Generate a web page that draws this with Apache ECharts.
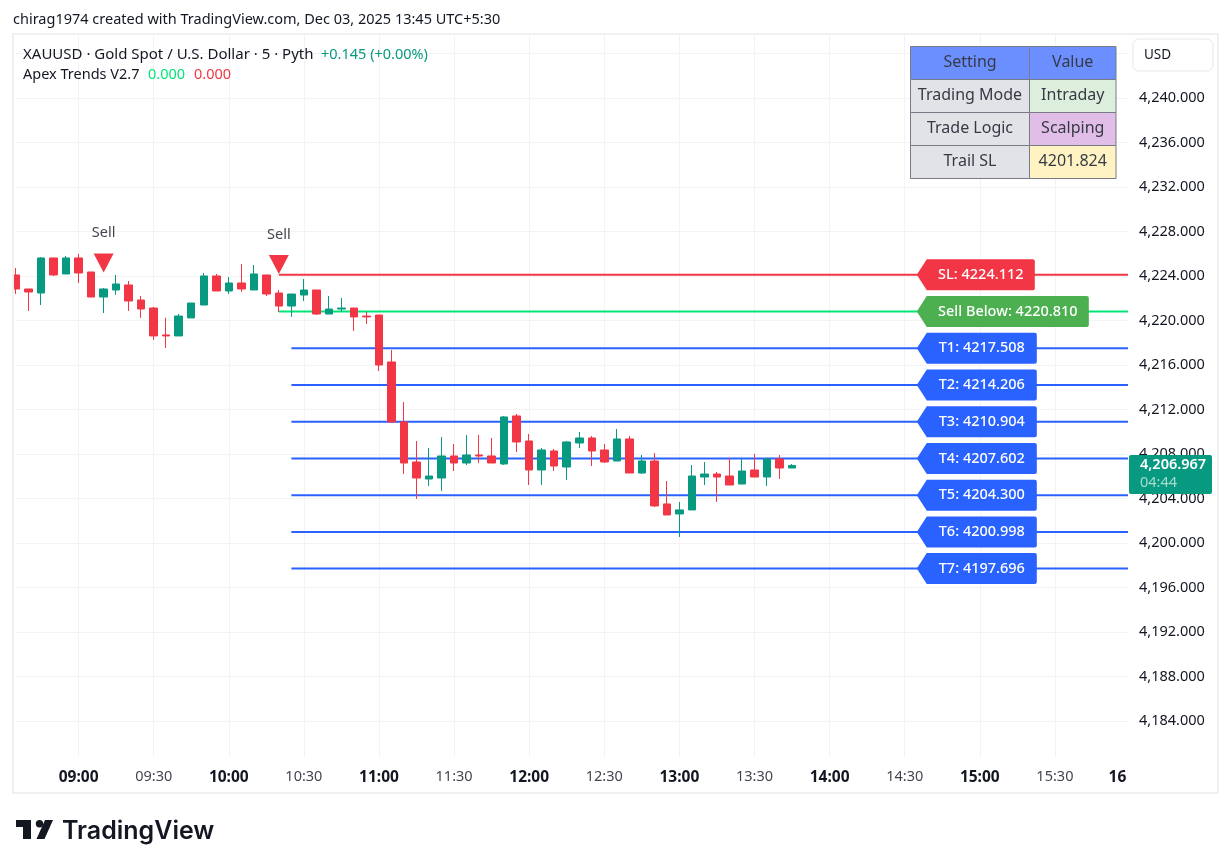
<!DOCTYPE html>
<html>
<head>
<meta charset="utf-8">
<title>XAUUSD</title>
<style>
html, body { margin: 0; padding: 0; background: #fff; }
#chart { width: 1231px; height: 868px; }
</style>
<script src="https://cdn.jsdelivr.net/npm/echarts@6/dist/echarts.min.js"></script>
</head>
<body>
<div id="chart"></div>
<script>
// candles
var opens = [4224.09,4222.83,4222.47,4225.62,4224.18,4225.62,4224.36,4222.11,4222.74,4223.19,4221.84,4221.12,4218.70,4218.61,4220.23,4221.39,4224.00,4222.65,4223.37,4222.74,4224.09,4222.47,4221.30,4222.29,4222.74,4220.58,4221.03,4221.12,4220.40,4220.49,4216.27,4210.88,4207.28,4205.75,4205.84,4207.82,4207.19,4207.91,4207.82,4207.10,4211.42,4209.17,4206.56,4208.27,4206.83,4208.99,4209.44,4208.36,4207.37,4209.35,4206.29,4207.37,4203.51,4202.61,4202.97,4205.93,4206.20,4206.02,4205.30,4206.56,4205.93,4207.55,4206.74];
var closes = [4222.83,4222.56,4225.62,4224.09,4225.62,4224.27,4222.11,4222.83,4223.28,4221.75,4221.03,4218.61,4218.61,4220.40,4221.57,4224.00,4222.65,4223.37,4222.83,4224.18,4222.38,4221.30,4222.38,4222.74,4220.58,4221.03,4221.12,4220.32,4220.32,4216.00,4210.88,4207.19,4205.84,4206.02,4207.82,4207.19,4207.91,4207.82,4207.19,4211.33,4209.08,4206.56,4208.36,4206.92,4209.08,4209.44,4208.27,4207.28,4209.35,4206.29,4207.37,4203.33,4202.52,4202.97,4206.02,4206.20,4205.93,4205.21,4206.47,4205.93,4207.55,4206.74,4206.97];
var lows = [4222.38,4220.85,4221.39,4224.00,4224.18,4223.37,4222.11,4220.67,4222.29,4220.85,4220.23,4218.25,4217.53,4218.61,4220.23,4221.39,4222.65,4222.38,4222.56,4222.74,4222.20,4220.76,4220.32,4221.75,4220.49,4220.58,4220.76,4219.06,4219.69,4215.46,4210.88,4206.20,4203.96,4205.12,4204.67,4206.47,4207.01,4207.19,4207.19,4207.01,4208.18,4205.21,4205.21,4206.47,4205.66,4208.54,4206.92,4207.19,4207.37,4206.29,4206.20,4203.24,4202.52,4200.54,4202.97,4205.21,4203.69,4205.21,4205.30,4205.93,4205.12,4205.75,4206.74];
var highs = [4224.72,4222.83,4225.71,4225.62,4225.80,4225.98,4224.36,4222.92,4224.09,4223.55,4222.20,4221.21,4220.23,4220.58,4221.57,4224.27,4224.18,4223.91,4225.08,4224.99,4224.09,4222.74,4222.38,4223.73,4222.74,4222.20,4222.02,4221.12,4220.76,4220.49,4217.35,4212.67,4209.17,4208.54,4209.53,4208.90,4209.71,4209.71,4209.44,4211.42,4211.60,4209.80,4208.54,4208.45,4209.17,4209.98,4209.62,4208.90,4210.25,4209.62,4207.91,4208.09,4205.57,4203.69,4207.01,4207.28,4206.38,4207.64,4207.64,4208.00,4207.64,4207.91,4207.10];

// entry, stop and target levels
var levelNames = ["SL", "Sell Below", "T1", "T2", "T3", "T4", "T5", "T6", "T7"];
var levelValues = [4224.112, 4220.81, 4217.508, 4214.206, 4210.904, 4207.602, 4204.3, 4200.998, 4197.696];
var levelStarts = [21, 21, 22, 22, 22, 22, 22, 22, 22];
var levelLineColors = ["#f23645", "#00e676", "#2962ff", "#2962ff", "#2962ff", "#2962ff", "#2962ff", "#2962ff", "#2962ff"];
var levelTagColors = ["#f23645", "#4caf50", "#2962ff", "#2962ff", "#2962ff", "#2962ff", "#2962ff", "#2962ff", "#2962ff"];

var sellIndexes = [7, 21];
var sellPrices = [4225.17, 4225.03];

var tableRows = [
  ["Setting", "Value"],
  ["Trading Mode", "Intraday"],
  ["Trade Logic", "Scalping"],
  ["Trail SL", "4201.824"]
];
var tableFills = [
  ["#6b8fff", "#6b8fff"],
  ["#e1e3e6", "#dcefdc"],
  ["#e1e3e6", "#e1bee7"],
  ["#e1e3e6", "#fff3c4"]
];

var lastPrice = "4,206.967";
var countdown = "04:44";

// 5 minute bars from 08:35 to 16:00
var categories = [];
for (var i = 0; i < 90; i++) {
  var m = 8 * 60 + 35 + i * 5;
  categories.push(("0" + Math.floor(m / 60)).slice(-2) + ":" + ("0" + m % 60).slice(-2));
}

var font = "'Noto Sans', sans-serif";
var candles = opens.map(function (o, i) { return [o, closes[i], lows[i], highs[i]]; });

function showsTime(i) {
  return (i - 5) % 6 === 0 && i < 89;
}

var levelSeries = levelNames.map(function (name, k) {
  return {
    type: "line",
    name: name,
    silent: true,
    showSymbol: false,
    z: 2,
    lineStyle: { color: levelLineColors[k], width: 2 },
    data: categories.map(function (c, i) { return i >= levelStarts[k] ? levelValues[k] : null; })
  };
});

// tag shape: pointed on the left, width w
function tagPath(w) {
  return "path://M10 0H" + (w - 2) + "Q" + w + " 0 " + w + " 2V29Q" + w + " 31 " + (w - 2) + " 31H10L0 15.5Z";
}

var tagData = levelNames.map(function (name, k) {
  var w = name === "Sell Below" ? 172 : name === "SL" ? 118 : 120;
  return {
    value: [77, levelValues[k]],
    name: name + ": " + levelValues[k].toFixed(3),
    symbol: tagPath(w),
    symbolSize: [w, 31],
    symbolOffset: [917 + w / 2 - 980, 0],
    itemStyle: { color: levelTagColors[k] },
    label: { offset: [5, 0] }
  };
});

// table cells, drawn as graphic rects
var colX = [910.5, 1029.5, 1116];
var rowY = [46.5, 79.5, 112.5, 145.5, 178.5];
var tableGraphic = [];
tableRows.forEach(function (row, r) {
  row.forEach(function (text, c) {
    tableGraphic.push({
      type: "rect", z: 120,
      shape: { x: colX[c], y: rowY[r], width: colX[c + 1] - colX[c], height: rowY[r + 1] - rowY[r] },
      style: { fill: tableFills[r][c], stroke: "#787b86", lineWidth: 1 }
    });
    tableGraphic.push({
      type: "text", z: 121,
      x: (colX[c] + colX[c + 1]) / 2, y: (rowY[r] + rowY[r + 1]) / 2 - 0.5,
      style: { text: text, fill: "#363a45", font: "16px " + font, align: "center", verticalAlign: "middle" }
    });
  });
});

function label(x, y, text, color, extra) {
  return {
    type: "text", z: 120, x: x, y: y,
    style: { text: text, fill: color, font: (extra || "14.5px") + " " + font, verticalAlign: "middle" }
  };
}

var myChart = echarts.init(document.getElementById("chart"));

var option = {
  animation: false,
  backgroundColor: "#ffffff",
  grid: { left: 16, right: 101, top: 34, bottom: 102.5 },
  xAxis: {
    type: "category",
    boundaryGap: false,
    data: categories,
    axisLine: { show: false },
    axisTick: { show: false },
    splitLine: {
      show: true,
      interval: function (i) { return showsTime(i); },
      lineStyle: { color: "#f3f3f3", width: 1 }
    },
    axisLabel: {
      margin: 4,
      fontFamily: font,
      interval: function (i) { return showsTime(i) || i === 88; },
      formatter: function (v) {
        if (v === "15:55") return "{b|16}";
        return v.slice(-2) === "00" ? "{b|" + v + "}" : "{n|" + v + "}";
      },
      rich: {
        b: { fontFamily: font, fontSize: 15.5, fontWeight: "bold", color: "#131722" },
        n: { fontFamily: font, fontSize: 14.5, color: "#434651" }
      }
    }
  },
  yAxis: {
    type: "value",
    position: "right",
    min: 4180,
    max: 4245.75,
    interval: 4,
    axisLine: { show: false },
    axisTick: { show: false },
    splitLine: { show: true, showMinLine: false, showMaxLine: false, lineStyle: { color: "#f3f3f3", width: 1 } },
    axisLabel: {
      margin: 9,
      color: "#131722",
      fontFamily: font,
      fontSize: 14.5,
      showMinLabel: false,
      showMaxLabel: false,
      formatter: function (v) {
        if (v > 4240) return "";
        return Math.floor(v / 1000) + "," + ("" + (v % 1000)).padStart(3, "0") + ".000";
      }
    }
  },
  series: levelSeries.concat([
    {
      type: "candlestick",
      name: "XAUUSD",
      z: 3,
      clip: false,
      barWidth: 8,
      itemStyle: { color: "#089981", color0: "#f23645", borderColor: "#089981", borderColor0: "#f23645", borderWidth: 1 },
      data: candles
    },
    {
      type: "scatter",
      name: "Sell",
      z: 4,
      symbol: "triangle",
      symbolRotate: 180,
      symbolSize: [20, 19],
      itemStyle: { color: "#f23645", opacity: 1 },
      label: { show: true, position: "top", distance: 13, formatter: "Sell", color: "#434651", fontFamily: font, fontSize: 14.5 },
      data: sellIndexes.map(function (x, i) { return [x, sellPrices[i]]; })
    },
    {
      type: "scatter",
      name: "Levels",
      z: 5,
      itemStyle: { opacity: 1 },
      label: {
        show: true, position: "inside", color: "#ffffff", fontFamily: font, fontSize: 14.5, fontWeight: 500,
        formatter: function (p) { return p.name; }
      },
      data: tagData
    }
  ]),
  graphic: [
    // hide the overhang of the axis band and the 4,180 row
    { type: "rect", z: 100, shape: { x: 1128, y: 30, width: 4, height: 740 }, style: { fill: "#fff" } },
    { type: "rect", z: 100, shape: { x: 10, y: 757, width: 1125, height: 10 }, style: { fill: "#fff" } },
    { type: "rect", z: 101, shape: { x: 13, y: 34, width: 1205, height: 759 }, style: { fill: "none", stroke: "#f0f0f0", lineWidth: 2 } },
    label(13, 20, "chirag1974 created with TradingView.com, Dec 03, 2025 13:45 UTC+5:30", "#131722"),
    label(23, 55, "XAUUSD · Gold Spot / U.S. Dollar · 5 · Pyth", "#131722", "15px"),
    label(321, 55, "+0.145 (+0.00%)", "#089981"),
    label(23, 75, "Apex Trends V2.7", "#131722"),
    label(148, 75, "0.000", "#00e676"),
    label(194, 75, "0.000", "#f23645"),
    // currency button
    { type: "rect", z: 120, shape: { x: 1133, y: 39, width: 80, height: 32, r: 6 }, style: { fill: "#fff", stroke: "#f0f0f0", lineWidth: 1.5 } },
    label(1144, 55, "USD", "#131722", "13.5px"),
    // last price tag
    { type: "rect", z: 130, shape: { x: 1129, y: 455, width: 83, height: 39, r: 2 }, style: { fill: "#089981" } },
    { type: "text", z: 131, x: 1140, y: 465, style: { text: lastPrice, fill: "#fff", font: "600 14.5px " + font, verticalAlign: "middle" } },
    { type: "text", z: 131, x: 1140, y: 483, style: { text: countdown, fill: "#a8dccd", font: "14.5px " + font, verticalAlign: "middle" } },
    // logo
    { type: "polygon", z: 120, shape: { points: [[16, 820], [31, 820], [31, 839], [23, 839], [23, 827], [16, 827]] }, style: { fill: "#131722" } },
    { type: "circle", z: 120, shape: { cx: 39.5, cy: 823.7, r: 3.7 }, style: { fill: "#131722" } },
    { type: "polygon", z: 120, shape: { points: [[45, 820], [53, 820], [44.5, 839], [36.5, 839]] }, style: { fill: "#131722" } },
    { type: "text", z: 120, x: 62, y: 831, style: { text: "TradingView", fill: "#131722", font: "600 25px Inter, " + font, verticalAlign: "middle" } }
  ].concat(tableGraphic)
};

myChart.setOption(option);
</script>
</body>
</html>
